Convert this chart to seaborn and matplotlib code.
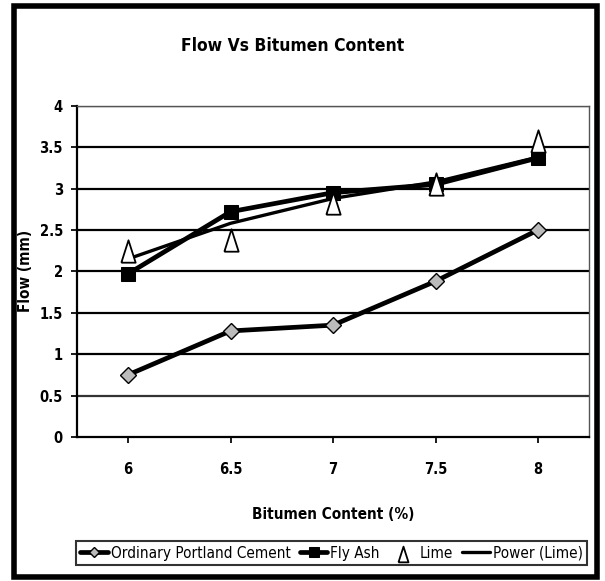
import matplotlib
matplotlib.use("Agg")
import matplotlib.pyplot as plt
import seaborn as sns
import pandas as pd
from matplotlib.patches import Rectangle

# data
bitumen = ["6", "6.5", "7", "7.5", "8"]
opc = [0.75, 1.28, 1.35, 1.88, 2.50]
fly_ash = [1.97, 2.72, 2.95, 3.05, 3.37]
lime = [2.25, 2.38, 2.83, 3.05, 3.57]
power_lime = [2.15, 2.58, 2.88, 3.08, 3.38]
yticks = [0, 0.5, 1, 1.5, 2, 2.5, 3, 3.5, 4]

sns.set_theme(style="white")
plt.rcParams['font.family'] = ['DejaVu Sans']
plt.rcParams['font.stretch'] = 'condensed'
plt.rcParams['text.color'] = 'black'
plt.rcParams['axes.labelcolor'] = 'black'
plt.rcParams['xtick.color'] = 'black'
plt.rcParams['ytick.color'] = 'black'

fig = plt.figure(figsize=(6.05, 5.81), dpi=100)
ax = fig.add_axes([0.127, 0.248, 0.847, 0.570])

pos = list(range(len(bitumen)))
df = pd.DataFrame({"x": pos, "opc": opc, "fly": fly_ash, "lime": lime, "pow": power_lime})

# gridlines
for v in yticks[1:]:
    ax.axhline(v, color="#333333" if v == 0.5 else "black", lw=1.6, zorder=1)

tall_tri = [(-0.32, -0.5), (0.32, -0.5), (0.0, 0.5), (-0.32, -0.5)]

sns.lineplot(data=df, x="x", y="pow", ax=ax, color="black", lw=2.4,
             label="Power (Lime)", zorder=3)
sns.lineplot(data=df, x="x", y="opc", ax=ax, color="black", lw=3.4,
             marker="D", markersize=8, markerfacecolor="#bbbbbb",
             markeredgecolor="black", markeredgewidth=1.0,
             label="Ordinary Portland Cement", zorder=4)
sns.lineplot(data=df, x="x", y="fly", ax=ax, color="black", lw=3.4,
             marker="s", markersize=10, markerfacecolor="black",
             markeredgecolor="black", label="Fly Ash", zorder=4)
sns.scatterplot(data=df, x="x", y="lime", ax=ax, marker=tall_tri, s=260,
                facecolor="white", edgecolor="black", linewidth=1.3,
                label="Lime", zorder=5)

ax.set_xlim(-0.5, 4.5)
ax.set_ylim(0, 4)
ax.set_xticks(pos)
ax.set_xticklabels(bitumen)
ax.set_yticks(yticks)
ax.set_yticklabels(["0", "0.5", "1", "1.5", "2", "2.5", "3", "3.5", "4"])
ax.tick_params(axis="both", labelsize=10.5, length=4, direction="out",
               bottom=True, left=True, pad=14)
ax.tick_params(axis="y", pad=6)
for lab in ax.get_xticklabels() + ax.get_yticklabels():
    lab.set_fontweight("bold")

for s in ["left", "bottom"]:
    ax.spines[s].set_color("black")
    ax.spines[s].set_linewidth(1.6)
for s in ["top", "right"]:
    ax.spines[s].set_color("#555555")
    ax.spines[s].set_linewidth(1.0)

ax.set_xlabel("Bitumen Content (%)", fontsize=11, fontweight="bold", labelpad=22)
ax.set_ylabel("Flow (mm)", fontsize=11, fontweight="bold")
ax.yaxis.set_label_coords(-0.086, 0.5)
fig.text(293/605, 1 - 46/581, "Flow Vs Bitumen Content", ha="center", va="center",
         fontsize=12.5, fontweight="bold")

h, l = ax.get_legend_handles_labels()
order = [l.index(n) for n in ["Ordinary Portland Cement", "Fly Ash", "Lime", "Power (Lime)"]]
leg = ax.legend([h[i] for i in order], [l[i] for i in order], ncol=4,
                loc="center", bbox_to_anchor=(0.548, 0.048), bbox_transform=fig.transFigure,
                frameon=True, fancybox=False, fontsize=11, handlelength=1.8,
                handletextpad=0.2, columnspacing=0.6, borderpad=0.3, markerscale=0.7)
leg.get_frame().set_edgecolor("black")
leg.get_frame().set_linewidth(1.5)

fig.patches.append(Rectangle((14/605, 4/581), 583/605, 571/581, transform=fig.transFigure,
                             fill=False, edgecolor="black", lw=4))

fig.savefig("out.png", dpi=100)
